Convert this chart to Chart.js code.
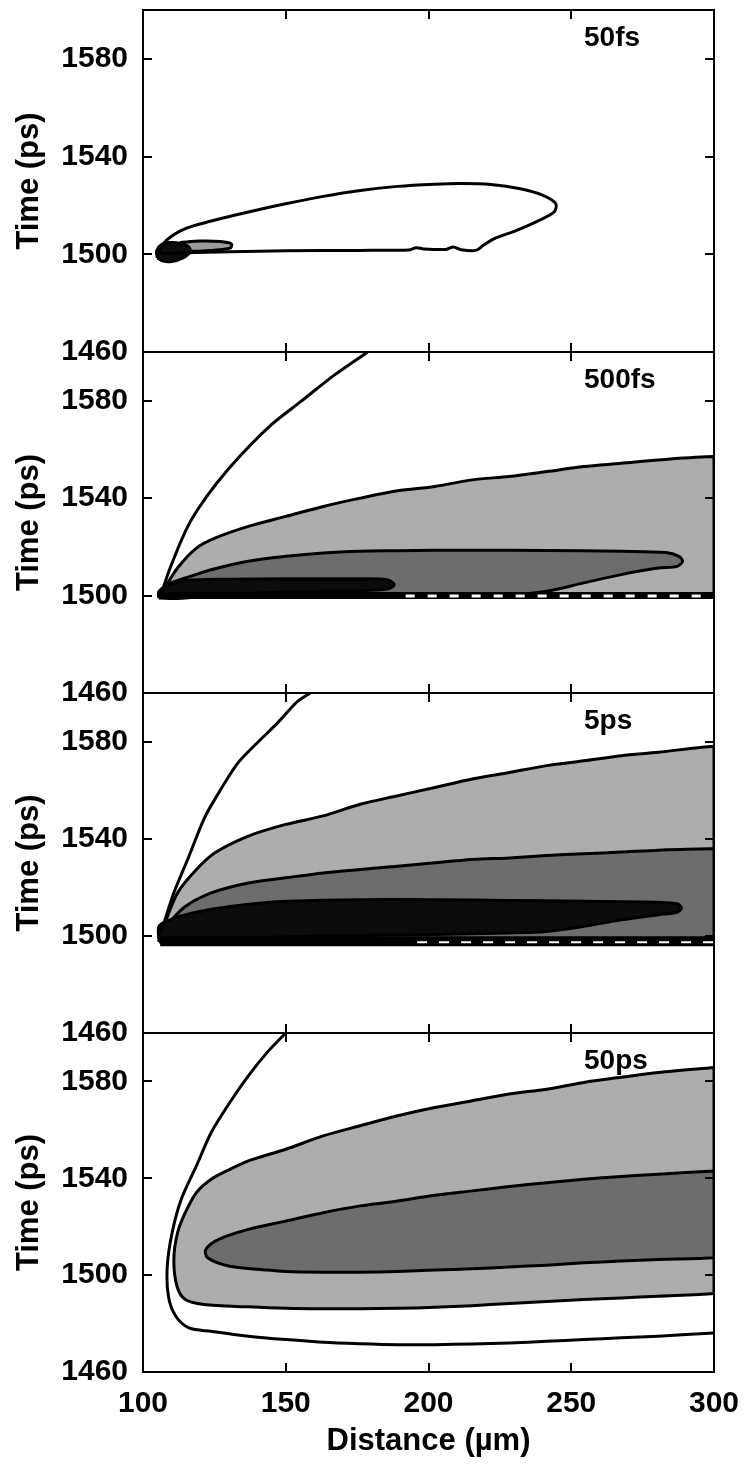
<!DOCTYPE html>
<html>
<head>
<meta charset="utf-8">
<script src="https://cdn.jsdelivr.net/npm/chart.js@4.4.0/dist/chart.umd.min.js"></script>
<style>
  html, body { margin: 0; padding: 0; background: #fff; }
  #wrap { position: relative; width: 746px; height: 1474px; }
  #wrap canvas { position: absolute; left: 0; top: 0; }
</style>
</head>
<body>
<div id="wrap">
  <canvas id="c1" width="746" height="1474"></canvas>
  <canvas id="c2" width="746" height="1474"></canvas>
  <canvas id="c3" width="746" height="1474"></canvas>
  <canvas id="c4" width="746" height="1474"></canvas>
</div>
<script>
// axes
var xTicks = [100, 150, 200, 250, 300];
var yTicks = [1460, 1500, 1540, 1580];
var panelLabels = ['50fs', '500fs', '5ps', '50ps'];

// --- 50fs ---
var p1Outer = [[105,1500.3],[108.2,1505.7],[114.8,1510.5],[123.9,1513.6],[136.9,1517.3],[150,1520.7],[163.1,1523.7],[176.1,1526.1],[189.2,1527.8],[202.2,1528.7],[211.4,1529],[221.8,1528.6],[232.2,1526.8],[240.1,1524.1],[244.6,1520.7],[244,1517.3],[238.8,1513.9],[230.9,1509.8],[223.1,1506.4],[219.2,1503.7],[216.6,1501.6],[211.4,1501.9],[208.7,1503],[206.1,1502],[198.3,1502.2],[195.7,1502.7],[193.1,1501.8],[176.1,1501.6],[150,1501.4],[130.4,1501],[114.8,1500.6],[105,1500.3]];
var p1Mid = [[113,1504.8],[120,1505.4],[127,1505.2],[131,1504.2],[130.5,1502.5],[125,1501.7],[113,1501.5],[113,1504.8]];
var p1Core = [[105,1498.5],[104.8,1501.5],[106.5,1504],[109.5,1504.8],[113,1504.5],[116,1503],[116.5,1501],[114,1498.5],[110,1497],[107,1497.2],[105,1498.5]];

// --- 500fs ---
var p2Edge = [[106.3,1500.4],[109.5,1511.3],[114.8,1526.3],[118.7,1534.5],[125.8,1546.1],[134.3,1557.7],[144.8,1570],[155.2,1579.6],[167,1590.5],[178.7,1600]];
var p2Light = [[106.9,1501.8],[112.1,1511.3],[118.7,1519.5],[125.2,1523.6],[136.9,1528.4],[150,1532.5],[163.1,1536.6],[176.1,1540],[189.2,1543],[202.2,1544.8],[215.3,1547.5],[228.3,1548.9],[241.4,1550.9],[254.4,1553],[267.5,1554.3],[280.5,1555.7],[300,1557.1],[300,1556],[300,1500.5],[299,1499.5],[108,1499.5],[106,1499.5],[106.9,1501.8]];
var p2Mid = [[108.2,1504.5],[114.8,1507.2],[123.9,1510.6],[136.9,1514.1],[150,1516.1],[163.1,1517.5],[176.1,1518.2],[189.2,1518.4],[202.2,1518.6],[228.3,1518.6],[254.4,1518.4],[267.5,1518.2],[283.2,1517.7],[287.7,1516.1],[289,1514.1],[287.1,1512],[280.5,1511.3],[267.5,1508.6],[254.4,1505.2],[241.4,1501.8],[228.3,1500.4],[200,1500],[108,1500],[106,1500.3],[108.2,1504.5]];
var p2Core = [[105.5,1499],[105.5,1501.5],[108.5,1504.2],[114.8,1506.2],[130.4,1506.7],[150,1506.9],[176.1,1506.9],[185.5,1506.5],[188,1504.5],[186,1502.8],[176.1,1502],[150,1501.5],[130.4,1500.5],[112,1498.8],[105.5,1499]];
var p2Base = [[106,1500],[300,1500]];
var p2Holes = [[192,1499.8],[300,1499.8]];

// --- 5ps ---
var p3Edge = [[105.5,1500.5],[106.9,1503.9],[110.8,1517.7],[116.1,1532.8],[121.3,1548],[125.2,1556.3],[133,1570.8],[139.6,1579],[147.4,1588],[153.9,1596.3],[158.5,1600]];
var p3Light = [[107.6,1505.2],[112.1,1517.7],[118.7,1527.3],[125.2,1534.2],[136.9,1541.1],[150,1545.9],[163.1,1549.4],[176.1,1554.2],[189.2,1557.7],[202.2,1561.1],[215.3,1564.6],[228.3,1567.3],[241.4,1570.1],[254.4,1572.1],[267.5,1574.2],[280.5,1575.6],[300,1578.1],[300,1577],[300,1499],[299,1498],[108,1498],[106,1498],[107.6,1505.2]];
var p3Mid = [[108.9,1505.2],[114.8,1512.1],[123.9,1517.7],[136.9,1521.8],[150,1523.9],[163.1,1525.9],[176.1,1527.3],[189.2,1528.7],[202.2,1530.1],[215.3,1531.4],[228.3,1532.1],[241.4,1533.1],[254.4,1533.8],[267.5,1534.5],[280.5,1535.3],[300,1535.9],[300,1535],[300,1499],[299,1498],[108,1498],[106,1498],[108.9,1505.2]];
var p3Core = [[105.6,1497.5],[105.6,1504],[109.5,1506.6],[117.4,1509.4],[130.4,1512.1],[150,1514.2],[176.1,1514.9],[202.2,1514.9],[228.3,1514.6],[254.4,1514.2],[280.5,1513.8],[287.1,1513.2],[288.6,1511.4],[287.1,1509.7],[280.5,1508.7],[267.5,1506.6],[254.4,1503.9],[241.4,1501.8],[228.3,1501.2],[202.2,1500.6],[150,1499.6],[112,1498],[105.6,1497.5]];
var p3Base = [[106,1497.8],[300,1497.8]];
var p3Holes = [[196,1497.4],[300,1497.4]];

// --- 50ps ---
var p4Outer = [[150,1600],[143.5,1592],[136.9,1582.3],[130.4,1571.3],[123.9,1558.9],[118.7,1545.1],[113.4,1531.3],[110.2,1517.5],[108.5,1503.7],[108.9,1491.3],[111.5,1483],[116.1,1478.2],[123.9,1476.8],[136.9,1474.8],[150,1473.4],[163.1,1472.3],[176.1,1471.7],[189.2,1471.3],[202.2,1471.3],[215.3,1471.6],[228.3,1472],[241.4,1472.7],[254.4,1473.4],[267.5,1474.1],[280.5,1474.8],[300,1476.1]];
var p4Light = [[300,1585.8],[280.5,1583.7],[267.5,1581.7],[254.4,1579.6],[241.4,1576.8],[228.3,1574.8],[215.3,1572],[202.2,1569.2],[189.2,1565.8],[176.1,1561.7],[163.1,1557.5],[150,1552],[136.9,1547.2],[130.4,1543.7],[123.9,1539.6],[118.7,1534.1],[114.8,1525.8],[112.1,1517.5],[110.8,1506.5],[111.9,1495.4],[114.8,1489.9],[121.3,1487.9],[136.9,1486.9],[150,1486.3],[163.1,1486.1],[176.1,1486.1],[189.2,1486.3],[202.2,1486.7],[215.3,1487.4],[228.3,1488.3],[241.4,1489.1],[254.4,1489.9],[267.5,1490.6],[280.5,1491.3],[300,1492.4],[300,1493.5],[300,1584.5],[300,1585.8]];
var p4Mid = [[300,1543],[280.5,1541.7],[267.5,1540.7],[254.4,1539.6],[241.4,1538.2],[228.3,1536.6],[215.3,1534.8],[202.2,1533],[189.2,1530.6],[176.1,1528.6],[163.1,1525.8],[150,1522.3],[136.9,1518.9],[126.5,1514.8],[122,1510.6],[122.6,1507.2],[130.4,1503.7],[143.5,1502.1],[150,1501.5],[163.1,1501.2],[176.1,1501.2],[189.2,1501.5],[202.2,1502.1],[215.3,1502.6],[228.3,1503.4],[241.4,1504.1],[254.4,1505.1],[267.5,1505.8],[280.5,1506.5],[300,1507.2],[300,1508.3],[300,1541.8],[300,1543]];

var LIGHT = '#adadad', MID = '#6d6d6d', DARK = '#0c0c0c', PALE = '#9c9c9c';
var FONT = "'Liberation Sans', Arial, sans-serif";

function pts(arr) {
  return arr.map(function (p) { return { x: p[0], y: p[1] }; });
}

// filled contour with black outline
function area(arr, fillColor, order) {
  return { data: pts(arr), backgroundColor: fillColor, borderColor: '#000', borderWidth: 3,
    fill: 'shape', order: order, pointRadius: 0, tension: 0.3, borderJoinStyle: 'round' };
}

// plain stroke (contour line, base band, holes)
function line(arr, color, width, order, dash) {
  return { data: pts(arr), borderColor: color, borderWidth: width, borderDash: dash || [],
    fill: false, order: order, pointRadius: 0, tension: dash ? 0 : 0.3, borderCapStyle: 'butt' };
}

// box + inward ticks on all sides + panel tag
var framePlugin = {
  id: 'frame',
  afterDatasetsDraw: function (chart, args, opts) {
    var ctx = chart.ctx, a = chart.chartArea;
    var xs = chart.scales.x, ys = chart.scales.y;
    ctx.save();
    ctx.strokeStyle = '#000';
    ctx.lineWidth = 2;
    ctx.strokeRect(a.left, a.top, a.right - a.left, a.bottom - a.top);
    ctx.beginPath();
    xTicks.forEach(function (v) {
      var px = Math.round(xs.getPixelForValue(v));
      ctx.moveTo(px, a.bottom); ctx.lineTo(px, a.bottom - 9);
      ctx.moveTo(px, a.top); ctx.lineTo(px, a.top + 9);
    });
    yTicks.forEach(function (v) {
      var py = Math.round(ys.getPixelForValue(v));
      ctx.moveTo(a.left, py); ctx.lineTo(a.left + 9, py);
      ctx.moveTo(a.right, py); ctx.lineTo(a.right - 9, py);
    });
    ctx.stroke();
    ctx.font = 'bold 28px ' + FONT;
    ctx.fillStyle = '#000';
    ctx.textBaseline = 'middle';
    ctx.textAlign = 'left';
    ctx.fillText(opts.label, a.right - 130, a.top + 28);
    ctx.restore();
  }
};

function plain(v) { return String(v); }

function makePanel(id, idx, top, bottom, datasets, showX) {
  new Chart(document.getElementById(id), {
    type: 'line',
    data: { datasets: datasets },
    options: {
      responsive: false,
      animation: false,
      events: [],
      layout: { padding: { left: 0, right: 32, top: top, bottom: showX ? 0 : 1474 - bottom } },
      plugins: {
        legend: { display: false },
        tooltip: { enabled: false },
        frame: { label: panelLabels[idx] }
      },
      scales: {
        x: {
          type: 'linear', min: 100, max: 300,
          display: showX,
          afterBuildTicks: function (s) { s.ticks = xTicks.map(function (v) { return { value: v }; }); },
          afterFit: function (s) {
            s.height = showX ? 1474 - bottom : 0;
            s.paddingLeft = 0; s.paddingRight = 0;
          },
          grid: { display: false, drawTicks: false },
          border: { display: false },
          ticks: { color: '#000', padding: 14, maxRotation: 0, autoSkip: false, callback: plain,
            font: { family: FONT, size: 30, weight: 'bold' } },
          title: { display: true, text: 'Distance (µm)', color: '#000', padding: { top: 0, bottom: 14 },
            font: { family: FONT, size: 31, weight: 'bold' } }
        },
        y: {
          type: 'linear', min: 1460, max: 1600,
          afterBuildTicks: function (s) { s.ticks = yTicks.map(function (v) { return { value: v }; }); },
          afterFit: function (s) {
            s.width = 143;
            s.paddingTop = 0; s.paddingBottom = 0;
          },
          grid: { display: false, drawTicks: false },
          border: { display: false },
          ticks: { color: '#000', padding: 15, autoSkip: false, callback: plain,
            font: { family: FONT, size: 30, weight: 'bold' } },
          title: { display: true, text: 'Time (ps)', color: '#000', padding: { top: 11, bottom: 0 },
            font: { family: FONT, size: 31, weight: 'bold' } }
        }
      }
    },
    plugins: [framePlugin]
  });
}

makePanel('c1', 0, 10, 352, [
  area(p1Mid, PALE, 2),
  area(p1Core, DARK, 1),
  line(p1Outer, '#000', 3, 0)
], false);

makePanel('c2', 1, 352, 693, [
  area(p2Light, LIGHT, 6),
  area(p2Mid, MID, 5),
  area(p2Core, DARK, 4),
  line(p2Base, '#000', 7, 3),
  line(p2Holes, '#fff', 3, 2, [9, 13]),
  line(p2Edge, '#000', 3, 0)
], false);

makePanel('c3', 2, 693, 1033, [
  area(p3Light, LIGHT, 6),
  area(p3Mid, MID, 5),
  area(p3Core, DARK, 4),
  line(p3Base, '#000', 10, 3),
  line(p3Holes, '#fff', 2, 2, [10, 12]),
  line(p3Edge, '#000', 3, 0)
], false);

makePanel('c4', 3, 1033, 1372, [
  area(p4Light, LIGHT, 3),
  area(p4Mid, MID, 2),
  line(p4Outer, '#000', 3, 0)
], true);
</script>
</body>
</html>
